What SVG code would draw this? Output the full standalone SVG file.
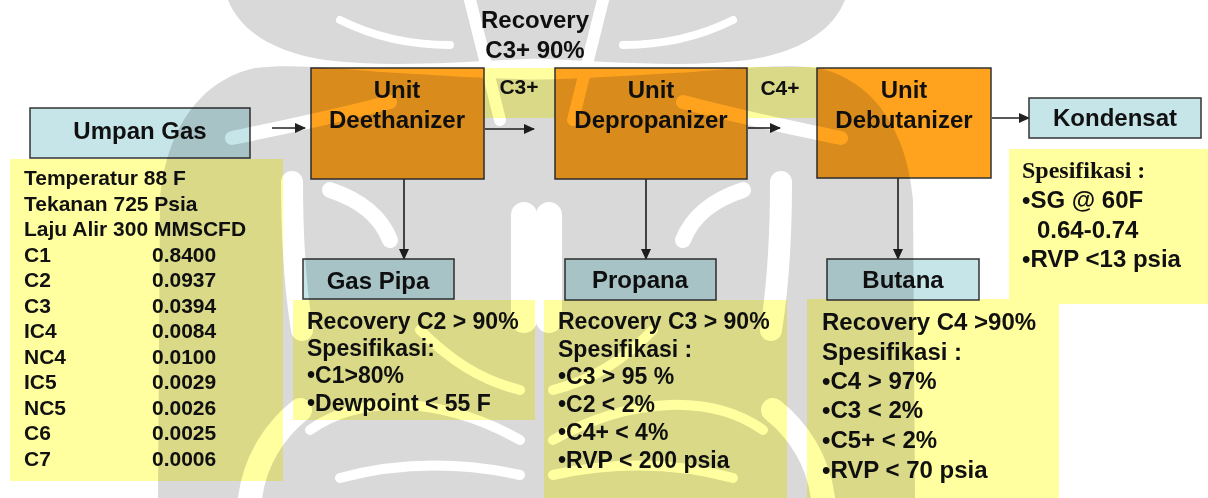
<svg xmlns="http://www.w3.org/2000/svg" width="1208" height="498" viewBox="0 0 1208 498">
<style>
.t{font-family:"Liberation Sans",Arial,sans-serif;font-weight:bold;fill:#111}
.serif{font-family:"Liberation Serif","Times New Roman",serif;font-weight:bold;fill:#111}
.unit{fill:#FFA31F;stroke:#333;stroke-width:1.5}
.prod{fill:#C6E5E9;stroke:#333;stroke-width:1.5}
.note{fill:#FFFFA0}
.lbl{font-size:24px;text-anchor:middle}
.wire{stroke:#222;stroke-width:1.6;fill:none;marker-end:url(#ah)}
.wg{fill:#D9D9D9}
.ww{fill:none;stroke:#fff;stroke-linecap:round}
</style>
<defs>
<marker id="ah" markerWidth="11" markerHeight="10" refX="10" refY="5" orient="auto" markerUnits="userSpaceOnUse"><path d="M0,0 L11,5 L0,10 Z" fill="#222"/></marker>
<g id="wmG">
<path class="wg" d="M228,0 C240,30 272,52 325,60 C390,68 460,62 545,58 L545,0 Z"/>
<path class="wg" d="M255,68 C200,80 166,130 160,200 L158,498 L545,498 L545,80 C470,78 420,74 380,72 C330,68 290,64 255,68 Z"/>
</g>
<g id="wmW">
<path class="ww" d="M232,138 C280,128 330,118 390,102" stroke-width="14"/>
<path class="ww" d="M292,182 C292,230 294,280 302,330" stroke-width="22"/>
<path class="ww" d="M330,190 C360,200 380,215 390,240" stroke-width="16"/>
<path class="ww" d="M470,0 C480,40 490,80 500,120" stroke-width="12"/>
<path class="ww" d="M340,20 C380,40 420,45 450,45" stroke-width="8"/>
<path class="ww" d="M524,215 L524,320" stroke-width="26"/>
<path class="ww" d="M310,430 C360,395 440,395 520,440" stroke-width="10"/>
<path class="ww" d="M340,478 C400,462 460,462 520,475" stroke-width="10"/>
<path class="ww" d="M420,330 C450,360 480,380 520,390" stroke-width="10"/>
<path class="ww" d="M250,498 C255,460 275,430 300,410" stroke-width="24"/>
</g>
</defs>
<rect width="1208" height="498" fill="#fff"/>

<g id="notes">
<rect class="note" x="10" y="159" width="273" height="322"/>
<rect class="note" x="484" y="68" width="71" height="50"/>
<rect class="note" x="747" y="67" width="70" height="51"/>
<rect class="note" x="293" y="300" width="242" height="120"/>
<rect class="note" x="544" y="300" width="243" height="198"/>
<rect class="note" x="807" y="299" width="252" height="199"/>
<rect class="note" x="1009" y="149" width="199" height="155"/>
</g>

<g id="connectors">
<path class="wire" d="M272,128 L305,128"/>
<path class="wire" d="M485,129 L534,129"/>
<path class="wire" d="M748,128 L780,128"/>
<path class="wire" d="M992,118 L1029,118"/>
<path class="wire" d="M404,179 L404,259"/>
<path class="wire" d="M646,179 L646,259"/>
<path class="wire" d="M898,178 L898,259"/>
</g>

<g id="umpan-gas">
<rect class="prod" x="30" y="108" width="220" height="50"/>
<text class="t lbl" x="140" y="139">Umpan Gas</text>
</g>
<g id="feed-data" class="t" font-size="21">
<text x="24" y="185">Temperatur 88 F</text>
<text x="24" y="210.5">Tekanan 725 Psia</text>
<text x="24" y="236">Laju Alir 300 MMSCFD</text>
<text x="24" y="261.5">C1</text><text x="152" y="261.5">0.8400</text>
<text x="24" y="287">C2</text><text x="152" y="287">0.0937</text>
<text x="24" y="312.5">C3</text><text x="152" y="312.5">0.0394</text>
<text x="24" y="338">IC4</text><text x="152" y="338">0.0084</text>
<text x="24" y="363.5">NC4</text><text x="152" y="363.5">0.0100</text>
<text x="24" y="389">IC5</text><text x="152" y="389">0.0029</text>
<text x="24" y="414.5">NC5</text><text x="152" y="414.5">0.0026</text>
<text x="24" y="440">C6</text><text x="152" y="440">0.0025</text>
<text x="24" y="465.5">C7</text><text x="152" y="465.5">0.0006</text>
</g>

<g id="deethanizer">
<rect class="unit" x="311" y="68" width="173" height="111"/>
<text class="t lbl" x="397" y="98">Unit</text>
<text class="t lbl" x="397" y="128">Deethanizer</text>
</g>
<g id="recovery-label" class="t lbl">
<text x="535" y="28">Recovery</text>
<text x="535" y="58">C3+ 90%</text>
</g>
<text class="t" x="519" y="94" font-size="21" text-anchor="middle">C3+</text>
<g id="depropanizer">
<rect class="unit" x="555" y="68" width="192" height="111"/>
<text class="t lbl" x="651" y="98">Unit</text>
<text class="t lbl" x="651" y="128">Depropanizer</text>
</g>
<text class="t" x="780" y="95" font-size="21" text-anchor="middle">C4+</text>
<g id="debutanizer">
<rect class="unit" x="817" y="68" width="174" height="110"/>
<text class="t lbl" x="904" y="98">Unit</text>
<text class="t lbl" x="904" y="128">Debutanizer</text>
</g>
<g id="kondensat">
<rect class="prod" x="1029" y="98" width="172" height="40"/>
<text class="t lbl" x="1115" y="126">Kondensat</text>
</g>
<g id="kondensat-spec" font-size="24">
<text class="serif" x="1022" y="178">Spesifikasi :</text>
<text class="t" x="1022" y="208">•SG @ 60F</text>
<text class="t" x="1037" y="238">0.64-0.74</text>
<text class="t" x="1022" y="267">•RVP &lt;13 psia</text>
</g>

<g id="gas-pipa">
<rect class="prod" x="303" y="259" width="151" height="40"/>
<text class="t lbl" x="378" y="289">Gas Pipa</text>
</g>
<g id="gas-pipa-spec" class="t" font-size="23">
<text x="307" y="329">Recovery C2 &gt; 90%</text>
<text x="307" y="356">Spesifikasi:</text>
<text x="307" y="383">•C1&gt;80%</text>
<text x="307" y="411">•Dewpoint &lt; 55 F</text>
</g>

<g id="propana">
<rect class="prod" x="565" y="259" width="151" height="41"/>
<text class="t lbl" x="640" y="288">Propana</text>
</g>
<g id="propana-spec" class="t" font-size="23">
<text x="558" y="329">Recovery C3 &gt; 90%</text>
<text x="558" y="356.5">Spesifikasi :</text>
<text x="558" y="384">•C3 &gt; 95 %</text>
<text x="558" y="412">•C2 &lt; 2%</text>
<text x="558" y="440">•C4+ &lt; 4%</text>
<text x="558" y="467.5">•RVP &lt; 200 psia</text>
</g>

<g id="butana">
<rect class="prod" x="827" y="259" width="152" height="41"/>
<text class="t lbl" x="903" y="288">Butana</text>
</g>
<g id="butana-spec" class="t" font-size="24">
<text x="822" y="330">Recovery C4 &gt;90%</text>
<text x="822" y="360">Spesifikasi :</text>
<text x="822" y="389">•C4 &gt; 97%</text>
<text x="822" y="418">•C3 &lt; 2%</text>
<text x="822" y="448">•C5+ &lt; 2%</text>
<text x="822" y="478">•RVP &lt; 70 psia</text>
</g>

<g id="watermark" style="mix-blend-mode:multiply">
<use href="#wmG"/>
<use href="#wmG" transform="translate(1073,0) scale(-1,1)"/>
<use href="#wmW"/>
<use href="#wmW" transform="translate(1073,0) scale(-1,1)"/>
</g>
</svg>
